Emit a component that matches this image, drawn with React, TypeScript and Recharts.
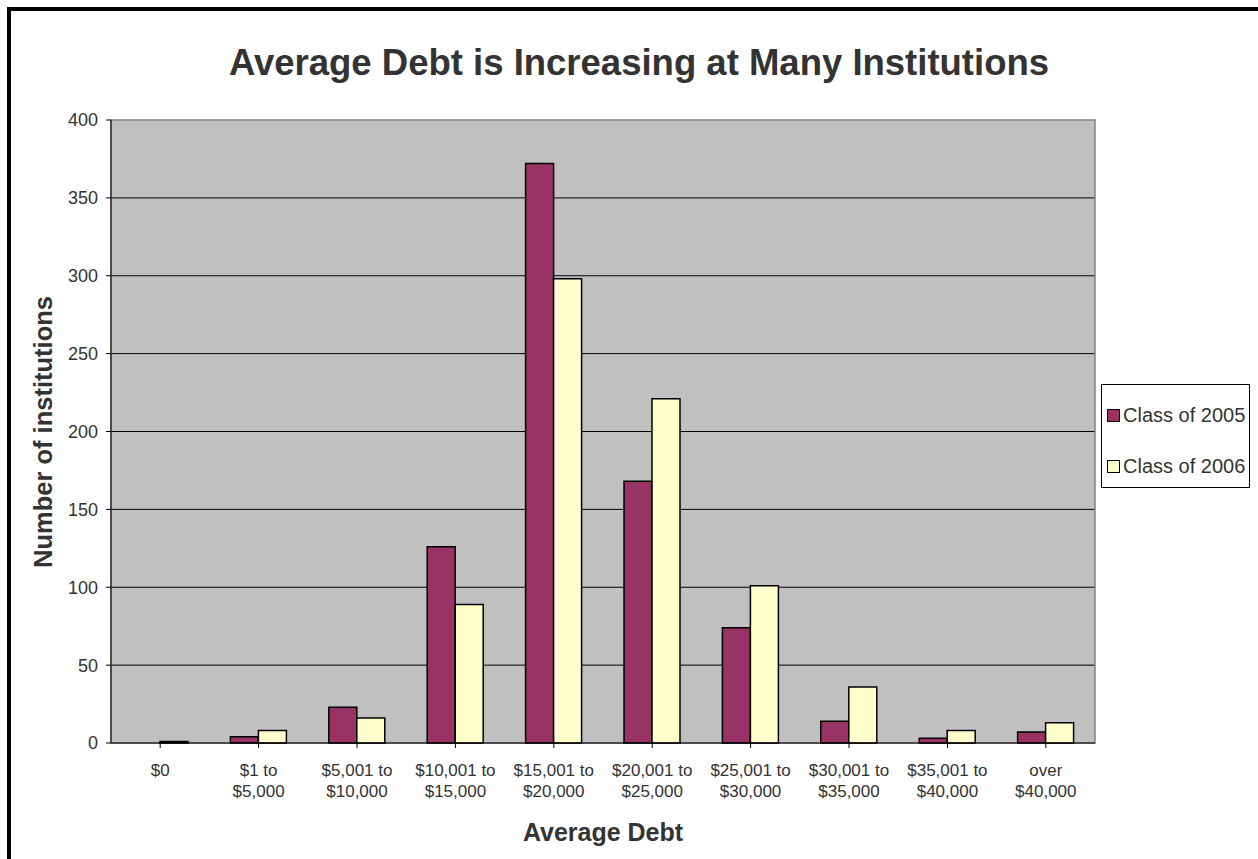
import React from 'react';
import { BarChart, Bar, XAxis, YAxis, CartesianGrid, Legend, ReferenceArea, Label } from 'recharts';

// debt brackets (line break = second line of the tick label)
const categories = [
  '$0',
  '$1 to\n$5,000',
  '$5,001 to\n$10,000',
  '$10,001 to\n$15,000',
  '$15,001 to\n$20,000',
  '$20,001 to\n$25,000',
  '$25,001 to\n$30,000',
  '$30,001 to\n$35,000',
  '$35,001 to\n$40,000',
  'over\n$40,000',
];
const class2005 = [0, 4, 23, 126, 372, 168, 74, 14, 3, 7];
const class2006 = [1, 8, 16, 89, 298, 221, 101, 36, 8, 13];
const yTicks = [0, 50, 100, 150, 200, 250, 300, 350, 400];
const gridValues = [50, 100, 150, 200, 250, 300, 350];

const FONT = '"Liberation Sans", Arial, sans-serif';
const COLOR_2005 = '#993366';
const COLOR_2006 = '#FFFFCC';

const data = categories.map((name, i) => ({
  name,
  c2005: class2005[i],
  c2006: class2006[i],
}));

const legendItems = [
  { label: 'Class of 2005', color: COLOR_2005 },
  { label: 'Class of 2006', color: COLOR_2006 },
];

const XTick = (props: any) => {
  const { x, y, payload } = props;
  const lines = String(payload.value).split('\n');
  return (
    <text x={x} y={y} textAnchor="middle" fontFamily={FONT} fontSize={17} fill="#333">
      {lines.map((l, i) => (
        <tspan key={i} x={x} dy={i === 0 ? 26 : 21}>
          {l}
        </tspan>
      ))}
    </text>
  );
};

const LegendBox = () => (
  <div
    style={{
      width: 149,
      height: 104,
      boxSizing: 'border-box',
      border: '1px solid #000',
      background: '#fff',
      position: 'relative',
      fontFamily: FONT,
      fontSize: 20,
      color: '#333',
    }}
  >
    {legendItems.map((it, i) => (
      <div
        key={it.label}
        style={{ position: 'absolute', left: 5, top: 18 + i * 51, display: 'flex', alignItems: 'center' }}
      >
        <span
          style={{
            display: 'inline-block',
            width: 11,
            height: 11,
            background: it.color,
            border: '1px solid #000',
            marginRight: 3,
          }}
        />
        <span style={{ lineHeight: '24px', whiteSpace: 'nowrap' }}>{it.label}</span>
      </div>
    ))}
  </div>
);

export default function App() {
  return (
    <div
      style={{
        position: 'absolute',
        left: 7,
        top: 7,
        width: 1260,
        height: 860,
        borderLeft: '4px solid #000',
        borderTop: '4px solid #000',
        background: '#fff',
        fontFamily: FONT,
      }}
    >
      <div
        style={{
          position: 'absolute',
          left: 0,
          top: 31,
          width: 1256,
          textAlign: 'center',
          fontSize: 36.5,
          lineHeight: '42px',
          fontWeight: 'bold',
          color: '#333',
          whiteSpace: 'nowrap',
        }}
      >
        Average Debt is Increasing at Many Institutions
      </div>
      <BarChart
        width={1247}
        height={848}
        data={data}
        margin={{ top: 109, right: 163, bottom: 36, left: 40 }}
        barCategoryGap={21}
        barGap={0}
      >
        <CartesianGrid
          vertical={false}
          horizontalValues={gridValues}
          stroke="#000"
          fill="#C0C0C0"
          fillOpacity={1}
        />
        <ReferenceArea y1={0} y2={400} fill="none" stroke="#808080" strokeWidth={1.5} ifOverflow="visible" />
        <XAxis
          dataKey="name"
          interval={0}
          height={80}
          tick={<XTick />}
          tickLine={{ stroke: '#000' }}
          tickSize={5}
          axisLine={{ stroke: '#000', strokeWidth: 1 }}
        >
          <Label
            content={() => (
              <text x={592} y={830} textAnchor="middle" fontFamily={FONT} fontSize={25} fontWeight="bold" fill="#333">
                Average Debt
              </text>
            )}
          />
        </XAxis>
        <YAxis
          width={60}
          domain={[0, 400]}
          ticks={yTicks}
          interval={0}
          tick={{ fontFamily: FONT, fontSize: 18, fill: '#333' }}
          tickLine={{ stroke: '#000' }}
          tickSize={5}
          tickMargin={8}
          axisLine={{ stroke: '#000', strokeWidth: 1 }}
        >
          <Label
            content={() => (
              <text
                x={41}
                y={421}
                transform="rotate(-90 41 421)"
                textAnchor="middle"
                fontFamily={FONT}
                fontSize={25.5}
                fontWeight="bold"
                fill="#333"
              >
                Number of institutions
              </text>
            )}
          />
        </YAxis>
        <Legend
          layout="horizontal"
          align="center"
          verticalAlign="middle"
          wrapperStyle={{ left: 1090, top: 373, width: 149, height: 104 }}
          content={<LegendBox />}
        />
        <Bar dataKey="c2005" name="Class of 2005" fill={COLOR_2005} stroke="#000" strokeWidth={1.5} isAnimationActive={false} />
        <Bar dataKey="c2006" name="Class of 2006" fill={COLOR_2006} stroke="#000" strokeWidth={1.5} isAnimationActive={false} />
      </BarChart>
    </div>
  );
}
